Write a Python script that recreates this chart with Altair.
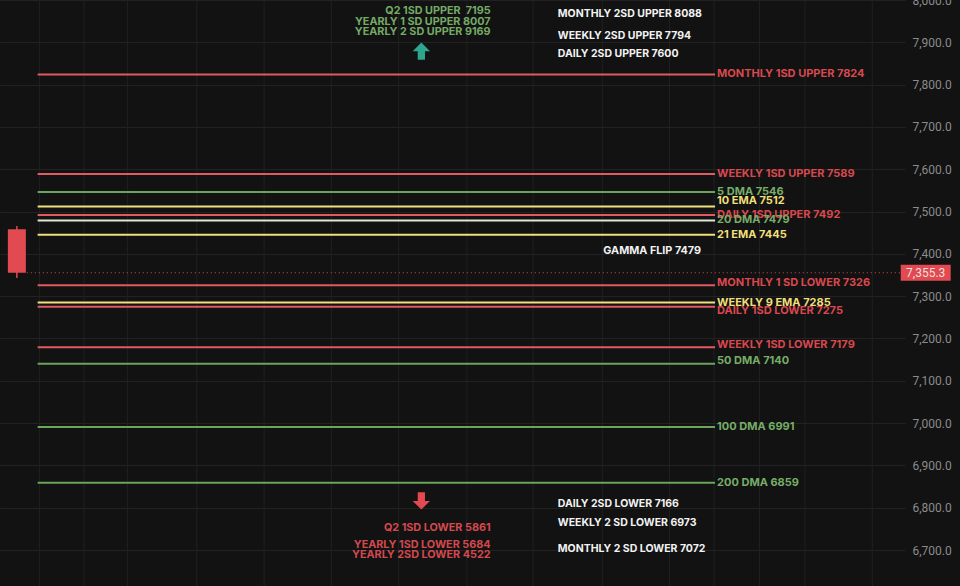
import altair as alt
import pandas as pd

# ---- price levels drawn as horizontal lines ----
level_names = ["MONTHLY 1SD UPPER", "WEEKLY 1SD UPPER", "5 DMA", "10 EMA", "DAILY 1SD UPPER",
               "20 DMA", "21 EMA", "MONTHLY 1 SD LOWER", "WEEKLY 9 EMA", "DAILY 1SD LOWER",
               "WEEKLY 1SD LOWER", "50 DMA", "100 DMA", "200 DMA"]
level_values = [7824, 7589, 7546, 7512, 7492, 7479, 7445, 7326, 7285, 7275, 7179, 7140, 6991, 6859]
level_kinds = ["sd", "sd", "dma", "ema", "sd", "dma20", "ema", "sd", "ema", "sd", "sd", "dma", "dma", "dma"]

# ---- candle / current price ----
candle_t = [12]
candle_open = [7458]
candle_high = [7466]
candle_low = [7343]
candle_close = [7355.3]
last_price = 7355.3

# ---- time grid (x) ----
grid_times = [35, 80, 124, 194, 262, 330, 398, 467, 534, 604, 672, 717, 763, 809, 877]
level_start, level_end = 33, 718
price_ticks = list(range(6700, 8001, 100))

# ---- text annotations ----
upper_targets = ["Q2 1SD UPPER \u00a07195", "YEARLY 1 SD UPPER 8007", "YEARLY 2 SD UPPER 9169"]
upper_targets_y = [7975, 7949, 7924]
upper_2sd = ["MONTHLY 2SD UPPER 8088", "WEEKLY 2SD UPPER 7794", "DAILY 2SD UPPER 7600"]
upper_2sd_y = [7966, 7915, 7872]
lower_2sd = ["DAILY 2SD LOWER 7166", "WEEKLY 2 SD LOWER 6973", "MONTHLY 2 SD LOWER 7072"]
lower_2sd_y = [6809, 6763, 6703]
lower_targets = ["Q2 1SD LOWER 5861", "YEARLY 1SD LOWER 5684", "YEARLY 2SD LOWER 4522"]
lower_targets_y = [6753, 6712, 6689]
gamma_text = ["GAMMA FLIP 7479"]
gamma_y = [7407]
arrow_y = {"up": 7879, "down": 6816}

BG = "#121212"
FONT = "Inter"
RED_LINE, RED_TXT = "#e05a5f", "#d9484e"
YEL_LINE, YEL_TXT = "#efe07c", "#f1df7a"
GRN_LINE, GRN_TXT = "#69a55b", "#76ad68"
W20_LINE = "#dde7d2"

W, H = 905, 586
xs = alt.Scale(domain=[0, W], nice=False, zero=False)
ys = alt.Scale(domain=[6615, 8000], nice=False, zero=False)
X = lambda f: alt.X(f, scale=xs, axis=None)
Y = lambda f: alt.Y(f, scale=ys, title=None)

levels = pd.DataFrame({
    "name": level_names, "value": level_values, "kind": level_kinds,
})
levels["label"] = levels["name"] + " " + levels["value"].astype(str)
levels["t0"] = level_start
levels["t1"] = level_end

line_color = alt.Color("kind:N", legend=None,
                       scale=alt.Scale(domain=["sd", "ema", "dma", "dma20"],
                                       range=[RED_LINE, YEL_LINE, GRN_LINE, W20_LINE]))
text_color = alt.Color("kind:N", legend=None,
                       scale=alt.Scale(domain=["sd", "ema", "dma", "dma20"],
                                       range=[RED_TXT, YEL_TXT, GRN_TXT, GRN_TXT]))

# base layer with y axis
axis_base = alt.Chart(pd.DataFrame({"p": price_ticks})).mark_point(opacity=0).encode(
    x=alt.value(0),
    y=alt.Y("p:Q", scale=ys, title=None,
            axis=alt.Axis(orient="right", values=price_ticks, format=",.1f",
                          labelColor="#8b8b8b", labelFontSize=12, labelFont="Roboto",
                          tickSize=0, domain=False, labelPadding=7,
                          grid=True, gridColor="#222222", gridWidth=1)),
)

vgrid = alt.Chart(pd.DataFrame({"t": grid_times})).mark_rule(
    color="#202020", strokeWidth=1).encode(x=X("t:Q"))

level_rules = alt.Chart(levels).mark_rule(strokeWidth=2).encode(
    x=X("t0:Q"), x2="t1:Q", y=Y("value:Q"), color=line_color)

nudges = {"10 EMA": -5, "DAILY 1SD LOWER": 4, "50 DMA": -3, "WEEKLY 1SD LOWER": -2,
          "MONTHLY 1 SD LOWER": -2}
label_layers = []
for dy in sorted(set(list(nudges.values()) + [0])):
    names = [n for n in level_names if nudges.get(n, 0) == dy]
    label_layers.append(
        alt.Chart(levels).transform_filter(
            alt.FieldOneOfPredicate(field="name", oneOf=names)
        ).mark_text(align="left", baseline="middle", dx=2, dy=dy, font=FONT,
                    fontWeight="bold", fontSize=11).encode(
            x=X("t1:Q"), y=Y("value:Q"), text="label:N", color=text_color)
    )

candle = pd.DataFrame({"t": candle_t, "o": candle_open, "h": candle_high,
                       "l": candle_low, "c": candle_close})
wick = alt.Chart(candle).mark_rule(color="#e04a50", strokeWidth=1.5).encode(
    x=X("t:Q"), y=Y("h:Q"), y2="l:Q")
body = alt.Chart(candle).mark_bar(color="#e04a50", size=18).encode(
    x=X("t:Q"), y=Y("o:Q"), y2="c:Q")

price_df = pd.DataFrame({"t0": [22], "t1": [W], "p": [last_price], "tag_t": [931],
                         "txt": [f"{last_price:,.1f}"]})
price_line = alt.Chart(price_df).mark_rule(color="#e04a50", strokeWidth=1,
                                           strokeDash=[1, 3]).encode(
    x=X("t0:Q"), x2="t1:Q", y=Y("p:Q"))
tag = alt.Chart(price_df).mark_point(
    shape="M-1,-0.32L1,-0.32L1,0.32L-1,0.32Z", size=2500, filled=True,
    color="#e04a50", opacity=1).encode(x=X("tag_t:Q"), y=Y("p:Q"))
tag_text = alt.Chart(price_df).mark_text(font="Roboto", fontSize=12, color="#f6dede",
                                         align="center", baseline="middle").encode(
    x=X("tag_t:Q"), y=Y("p:Q"), text="txt:N")


def text_layer(texts, ys_, t, align, color, size=11):
    df = pd.DataFrame({"txt": texts, "y": ys_, "t": t})
    return alt.Chart(df).mark_text(align=align, baseline="middle", font=FONT,
                                   fontWeight="bold", fontSize=size, color=color).encode(
        x=X("t:Q"), y=Y("y:Q"), text="txt:N")


ann = [
    text_layer(upper_targets, upper_targets_y, 491, "right", "#74aa66", 10.8),
    text_layer(upper_2sd, upper_2sd_y, 559, "left", "#f2f2f2", 10.5),
    text_layer(lower_2sd, lower_2sd_y, 559, "left", "#f2f2f2", 10.5),
    text_layer(lower_targets, lower_targets_y, 491, "right", "#d4494f", 10.8),
    text_layer(gamma_text, gamma_y, 605, "left", "#f2f2f2", 10.8),
]

arrows_df = pd.DataFrame({"t": [421], "up": [arrow_y["up"]], "down": [arrow_y["down"]]})
up_arrow = alt.Chart(arrows_df).mark_point(
    shape="M0,-1L1,0L0.42,0L0.42,1L-0.42,1L-0.42,0L-1,0Z", size=300, filled=True,
    color="#2ea58f", opacity=1).encode(x=X("t:Q"), y=Y("up:Q"))
down_arrow = alt.Chart(arrows_df).mark_point(
    shape="M0,1L1,0L0.42,0L0.42,-1L-0.42,-1L-0.42,0L-1,0Z", size=300, filled=True,
    color="#e04a50", opacity=1).encode(x=X("t:Q"), y=Y("down:Q"))

chart = alt.layer(
    axis_base, vgrid, level_rules, *label_layers, price_line, wick, body, tag, tag_text,
    *ann, up_arrow, down_arrow,
).resolve_scale(color="independent").properties(
    width=W, height=H,
    autosize=alt.AutoSizeParams(type="none"),
    padding={"left": 0, "top": 0, "right": 55, "bottom": 0},
    background=BG,
).configure_view(strokeWidth=0, fill=BG)

chart.save("out.html", embed_options={"renderer": "svg", "actions": False})
